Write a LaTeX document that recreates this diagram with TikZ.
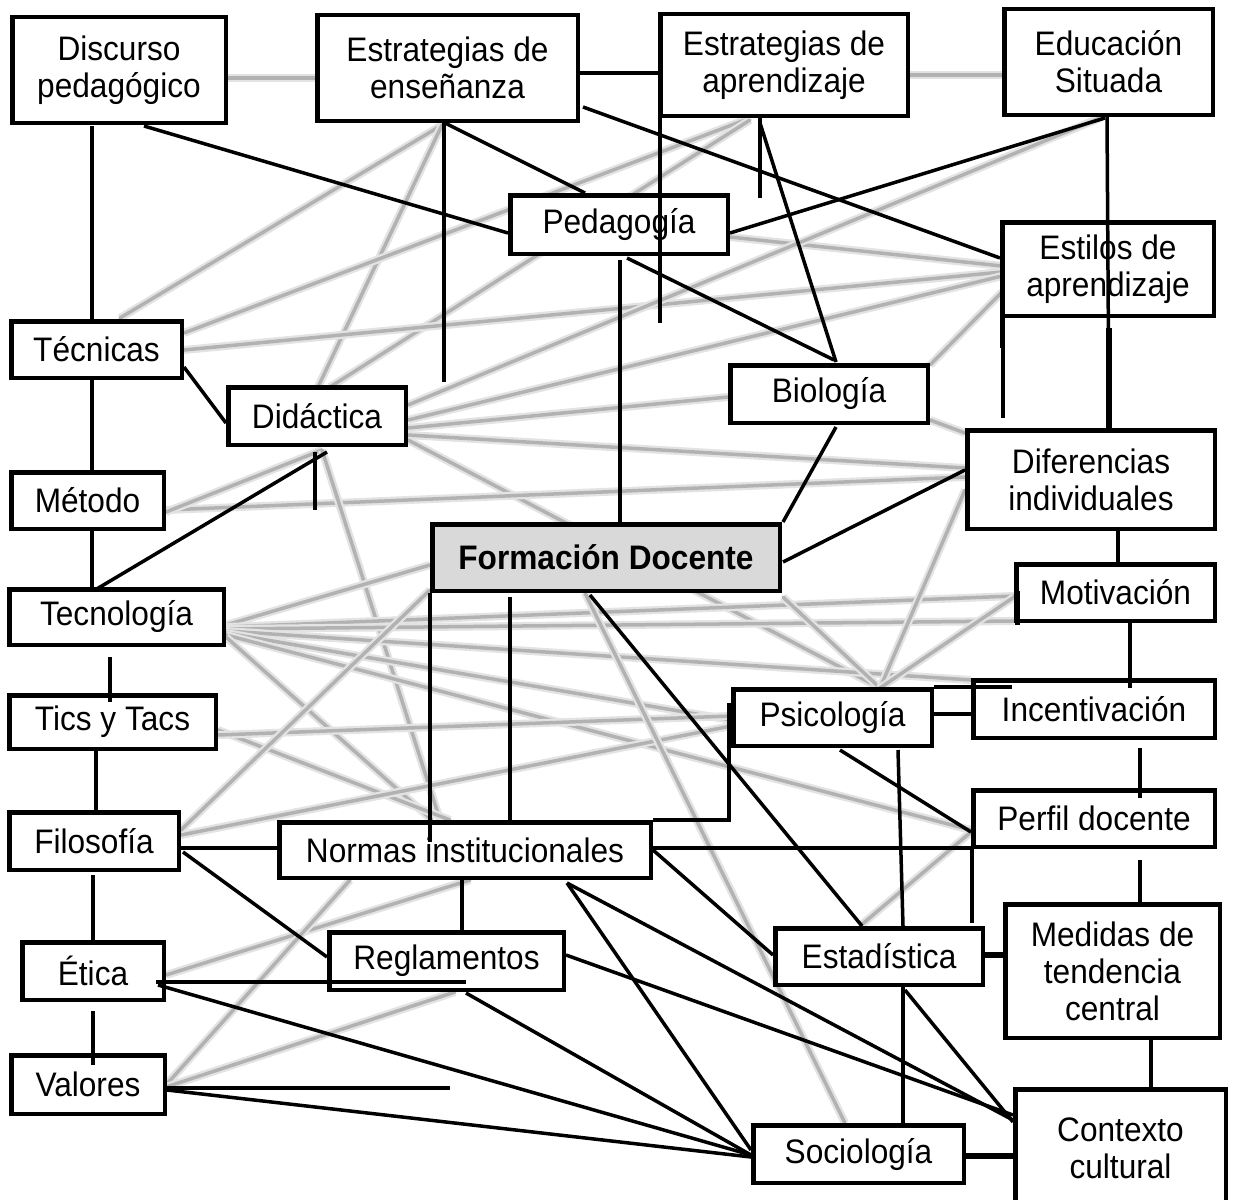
\documentclass[tikz,border=0pt]{standalone}
\usepackage{fontspec}
\setmainfont{Liberation Sans}[FakeStretch=0.93]
\usetikzlibrary{calc}
\begin{document}
\begin{tikzpicture}[x=1pt,y=-1pt,
  box/.style={draw, line width=4.5pt, fill=white, inner sep=0pt, align=center, font=\fontsize{34}{37}\selectfont},
  conn/.style={line width=3.5pt},
  thickconn/.style={line width=6pt},
  ghost/.style={draw=black!30, line width=3.5pt, line cap=round, preaction={draw=black!11, line width=8pt}},
]
\useasboundingbox (0,0) rectangle (1233,1199);
\fill[white] (0,0) rectangle (1233,1199);

% named coordinates (free ends of connectors)
\coordinate (ensEnd) at (444,382);
\coordinate (aprEndA) at (660,323);
\coordinate (aprEndB) at (760,198);
\coordinate (didEnd) at (315,510);
\coordinate (valEnd) at (450,1088);

% node centres
\coordinate (c-disc) at (119,70);
\coordinate (c-ens) at (447.5,68);
\coordinate (c-apr) at (784,65);
\coordinate (c-edu) at (1108.5,62);
\coordinate (c-ped) at (619,224.5);
\coordinate (c-est) at (1108,269);
\coordinate (c-tec) at (96.5,349.5);
\coordinate (c-did) at (317,416);
\coordinate (c-bio) at (829,394);
\coordinate (c-dif) at (1091,479.5);
\coordinate (c-met) at (87.5,500.5);
\coordinate (c-form) at (606,557.5);
\coordinate (c-tecn) at (116.5,617);
\coordinate (c-mot) at (1115.5,592.5);
\coordinate (c-tics) at (112.5,722);
\coordinate (c-psi) at (832.5,717.5);
\coordinate (c-inc) at (1094,709);
\coordinate (c-perf) at (1094,818.5);
\coordinate (c-fil) at (94,841);
\coordinate (c-norm) at (465,850);
\coordinate (c-regl) at (446.5,961);
\coordinate (c-etic) at (93,971);
\coordinate (c-val) at (88,1084.5);
\coordinate (c-estad) at (879,956.5);
\coordinate (c-med) at (1112.5,971);
\coordinate (c-soc) at (858.5,1154);
\coordinate (c-ctx) at (1120.5,1148.5);

% ---------- grey background links ----------
\draw[ghost] ($(c-disc)+(109,8)$) -- ($(c-ens)+(-131.5,10)$);
\draw[ghost] ($(c-apr)+(126,10)$) -- ($(c-edu)+(-106.5,13)$);
\draw[ghost] ($(c-ens)+(-5.5,57)$) -- ($(c-tec)+(23.5,-31.5)$);
\draw[ghost] ($(c-ens)+(-5.5,57)$) -- ($(c-did)+(1,-29)$);
\draw[ghost] ($(c-apr)+(-39,55)$) -- ($(c-tec)+(87.5,-16.5)$);
\draw[ghost] ($(c-apr)+(-34,55)$) -- ($(c-did)+(13,-29)$);
\draw[ghost] ($(c-tec)+(87.5,0.5)$) -- ($(c-est)+(-106,3)$);
\draw[ghost] ($(c-ped)+(111,12.5)$) -- ($(c-est)+(-106,-3)$);
\draw[ghost] ($(c-did)+(91,4)$) -- ($(c-est)+(-106,7)$);
\draw[ghost] ($(c-did)+(91,-11)$) -- ($(c-edu)+(-8.5,56)$);
\draw[ghost] ($(c-did)+(91,12)$) -- ($(c-bio)+(-101,3)$);
\draw[ghost] ($(c-did)+(91,19)$) -- ($(c-dif)+(-126,-11.5)$);
\draw[ghost] ($(c-did)+(91,24)$) -- ($(c-psi)+(47.5,-29.5)$);
\draw[ghost] ($(c-est)+(-106,23)$) -- ($(c-bio)+(101,-29)$);
\draw[ghost] ($(c-bio)+(101,26)$) -- ($(c-dif)+(-126,-46.5)$);
\draw[ghost] ($(c-met)+(78.5,9.5)$) -- ($(c-dif)+(-126,-2.5)$);
\draw[ghost] ($(c-met)+(78.5,11.5)$) -- ($(c-did)+(5,34)$);
\draw[ghost] ($(c-did)+(5,34)$) -- ($(c-norm)+(-25,-30)$);
\draw[ghost] ($(c-tecn)+(109.5,8)$) -- ($(c-form)+(-176,7.5)$);
\draw[ghost] ($(c-tecn)+(109.5,10)$) -- ($(c-mot)+(-101.5,3.5)$);
\draw[ghost] ($(c-tecn)+(109.5,12)$) -- ($(c-mot)+(-101.5,28.5)$);
\draw[ghost] ($(c-tecn)+(109.5,14)$) -- ($(c-inc)+(-123,-29)$);
\draw[ghost] ($(c-tecn)+(109.5,16)$) -- ($(c-psi)+(-101.5,2.5)$);
\draw[ghost] ($(c-tecn)+(109.5,18)$) -- ($(c-perf)+(-123,11.5)$);
\draw[ghost] ($(c-tecn)+(109.5,20)$) -- ($(c-norm)+(-33,-30)$);
\draw[ghost] ($(c-tics)+(105.5,8)$) -- ($(c-norm)+(-15,-30)$);
\draw[ghost] ($(c-tics)+(105.5,13)$) -- ($(c-psi)+(-101.5,-1.5)$);
\draw[ghost] ($(c-fil)+(87,-6)$) -- ($(c-psi)+(-101.5,8.5)$);
\draw[ghost] ($(c-fil)+(87,-11)$) -- ($(c-form)+(-176,32.5)$);
\draw[ghost] ($(c-form)+(177,39.5)$) -- ($(c-psi)+(47.5,-29.5)$);
\draw[ghost] ($(c-dif)+(-126,10.5)$) -- ($(c-psi)+(47.5,-29.5)$);
\draw[ghost] ($(c-mot)+(-101.5,4.5)$) -- ($(c-psi)+(47.5,-29.5)$);
\draw[ghost] ($(c-form)+(-21,35.5)$) -- ($(c-soc)+(-13.5,-31)$);
\draw[ghost] ($(c-perf)+(-123,13.5)$) -- ($(c-estad)+(-19,-30.5)$);
\draw[ghost] ($(c-etic)+(73,4)$) -- ($(c-norm)+(5,30)$);
\draw[ghost] ($(c-val)+(78,0.5)$) -- ($(c-norm)+(-115,30)$);
\draw[ghost] ($(c-val)+(78,2.5)$) -- ($(c-regl)+(8.5,31)$);

% ---------- boxes ----------
\node[box, minimum width=213.5pt, minimum height=105.5pt] (disc) at (c-disc) {Discurso\\pedagógico};
\node[box, minimum width=260.5pt, minimum height=105.5pt] (ens) at (c-ens) {Estrategias de\\enseñanza};
\node[box, minimum width=247.5pt, minimum height=101.5pt] (apr) at (c-apr) {Estrategias de\\aprendizaje};
\node[box, minimum width=208.5pt, minimum height=105.5pt] (edu) at (c-edu) {Educación\\Situada};
\node[box, minimum width=217.5pt, minimum height=58.5pt] (ped) at (c-ped) {Pedagogía};
\node[box, minimum width=211.5pt, minimum height=93.5pt] (est) at (c-est) {Estilos de\\aprendizaje};
\node[box, minimum width=170.5pt, minimum height=56.5pt] (tec) at (c-tec) {Técnicas};
\node[box, minimum width=177.5pt, minimum height=57.5pt] (did) at (c-did) {Didáctica};
\node[box, minimum width=197.5pt, minimum height=57.5pt] (bio) at (c-bio) {Biología};
\node[box, minimum width=247.5pt, minimum height=98.5pt] (dif) at (c-dif) {Diferencias\\individuales};
\node[box, minimum width=152.5pt, minimum height=56.5pt] (met) at (c-met) {Método};
\node[box, minimum width=347.5pt, minimum height=66.5pt, fill=black!15, font=\fontsize{34}{37}\selectfont\bfseries] (form) at (c-form) {Formación Docente};
\node[box, minimum width=214.5pt, minimum height=55.5pt] (tecn) at (c-tecn) {Tecnología};
\node[box, minimum width=198.5pt, minimum height=56.5pt] (mot) at (c-mot) {Motivación};
\node[box, minimum width=206.5pt, minimum height=53.5pt] (tics) at (c-tics) {Tics y Tacs};
\node[box, minimum width=198.5pt, minimum height=56.5pt] (psi) at (c-psi) {Psicología};
\node[box, minimum width=241.5pt, minimum height=57.5pt] (inc) at (c-inc) {Incentivación};
\node[box, minimum width=241.5pt, minimum height=56.5pt] (perf) at (c-perf) {Perfil docente};
\node[box, minimum width=169.5pt, minimum height=57.5pt] (fil) at (c-fil) {Filosofía};
\node[box, minimum width=371.5pt, minimum height=55.5pt] (norm) at (c-norm) {Normas institucionales};
\node[box, minimum width=234.5pt, minimum height=57.5pt] (regl) at (c-regl) {Reglamentos};
\node[box, minimum width=141.5pt, minimum height=57.5pt] (etic) at (c-etic) {Ética};
\node[box, minimum width=153.5pt, minimum height=58.5pt] (val) at (c-val) {Valores};
\node[box, minimum width=207.5pt, minimum height=56.5pt] (estad) at (c-estad) {Estadística};
\node[box, minimum width=214.5pt, minimum height=133.5pt] (med) at (c-med) {Medidas de\\tendencia\\central};
\node[box, minimum width=210.5pt, minimum height=118.5pt] (ctx) at (c-ctx) {Contexto\\cultural};
\node[box, minimum width=210.5pt, minimum height=57.5pt] (soc) at (c-soc) {Sociología};

% ---------- black connectors ----------
\draw[conn] ($(disc)+(-27,56)$) -- ($(tec)+(-4.5,-30.5)$);
\draw[conn] ($(disc)+(25,56)$) -- ($(ped)+(-111,8.5)$);
\draw[conn] ($(ens)+(132.5,5)$) -- ($(apr)+(-126,8)$);
\draw[conn] ($(ens)+(-2.5,55)$) -- ($(ped)+(-34,-31.5)$);
\draw[conn] ($(ens)+(-3.5,55)$) -- (ensEnd);
\draw[conn] ($(ens)+(135.5,39)$) -- ($(est)+(-108,-11)$);
\draw[conn] ($(apr)+(-124,53)$) -- (aprEndA);
\draw[conn] ($(apr)+(-24,53)$) -- (aprEndB);
\draw[conn] ($(apr)+(-24,58)$) -- ($(bio)+(7,-32)$);
\draw[conn] ($(edu)+(-3.5,56)$) -- ($(ped)+(111,8.5)$);
\draw[conn] ($(edu)+(-1.5,55)$) -- ($(dif)+(18,-51.5)$);
\draw[line width=5.5pt] ($(est)+(1,59)$) -- ($(dif)+(18,-52)$);
\draw[line width=5pt] ($(est)+(-106,8)$) -- ($(est)+(-106,79)$);
\draw[conn] ($(est)+(-105,8)$) -- ($(dif)+(-88,-62)$);
\draw[conn] ($(ped)+(1,35.5)$) -- ($(form)+(14,-35.5)$);
\draw[conn] ($(ped)+(8,33.5)$) -- ($(bio)+(5,-34)$);
\draw[conn] ($(bio)+(7,33)$) -- ($(form)+(177,-35.5)$);
\draw[conn] ($(form)+(177,4.5)$) -- ($(dif)+(-126,-9.5)$);
\draw[conn] ($(tec)+(87.5,17.5)$) -- ($(did)+(-91,7)$);
\draw[conn] ($(tec)+(-4.5,30.5)$) -- ($(met)+(4.5,-30.5)$);
\draw[conn] ($(did)+(10,36)$) -- ($(tecn)+(-21.5,-27)$);
\draw[conn] ($(did)+(-2,36)$) -- (didEnd);
\draw[conn] ($(met)+(4.5,30.5)$) -- ($(tecn)+(-24.5,-30)$);
\draw[conn] ($(tecn)+(-6.5,40)$) -- ($(tics)+(-2.5,-20)$);
\draw[conn] ($(tics)+(-16.5,29)$) -- ($(fil)+(2,-26)$);
\draw[conn] ($(form)+(-176,35.5)$) -- ($(norm)+(-35,-8)$);
\draw[conn] ($(form)+(-96,39.5)$) -- ($(norm)+(45,-30)$);
\draw[conn] ($(form)+(-16,37.5)$) -- ($(estad)+(-17,-30.5)$);
\draw[conn] ($(fil)+(87,7)$) -- ($(norm)+(-188,-2)$);
\draw[conn] ($(fil)+(89,11)$) -- ($(regl)+(-119.5,-4)$);
\draw[conn] ($(fil)+(-1,34)$) -- ($(etic)+(0,-31)$);
\draw[conn] ($(etic)+(0,40)$) -- ($(val)+(5,-19.5)$);
\draw[conn] ($(norm)+(-3,30)$) -- ($(regl)+(15.5,-31)$);
\draw[conn] ($(etic)+(63,11)$) -- ($(regl)+(19.5,21)$);
\draw[conn] ($(etic)+(65,14)$) -- ($(soc)+(-107.5,1)$);
\draw[conn] ($(val)+(79,3.5)$) -- (valEnd);
\draw[conn] ($(val)+(79,5.5)$) -- ($(soc)+(-107.5,3)$);
\draw[conn] ($(norm)+(188,-2)$) -- ($(perf)+(-123,29.5)$);
\draw[conn] ($(norm)+(188,0)$) -- ($(estad)+(-106,-1.5)$);
\draw[conn] ($(norm)+(102,33)$) -- ($(soc)+(-107.5,-4)$);
\draw[conn] ($(norm)+(102,33)$) -- ($(ctx)+(-107.5,-28.5)$);
\draw[conn] ($(regl)+(119.5,-6)$) -- ($(ctx)+(-107.5,-33.5)$);
\draw[conn] ($(regl)+(19.5,32)$) -- ($(soc)+(-107.5,1)$);
\draw[conn] ($(norm)+(188,-30)$) -| ($(psi)+(-103.5,-14.5)$);
\draw[conn] ($(psi)+(101.5,-3.5)$) -- ($(inc)+(-123,5)$);
\draw[conn] ($(psi)+(101.5,-30.5)$) -- ($(inc)+(-82,-22)$);
\draw[conn] ($(dif)+(27,51.5)$) -- ($(mot)+(2.5,-30.5)$);
\draw[conn] ($(mot)+(14.5,30.5)$) -- ($(inc)+(36,-21)$);
\draw[conn] ($(inc)+(46,39)$) -- ($(perf)+(46,-20.5)$);
\draw[conn] ($(perf)+(46,41.5)$) -- ($(med)+(27.5,-69)$);
\draw[conn] ($(med)+(38.5,69)$) -- ($(ctx)+(30.5,-61.5)$);
\draw[thickconn] ($(estad)+(106,-1.5)$) -- ($(med)+(-109.5,-16)$);
\draw[thickconn] ($(soc)+(107.5,2)$) -- ($(ctx)+(-107.5,7.5)$);
\draw[conn] ($(psi)+(7.5,32.5)$) -- ($(perf)+(-123,13.5)$);
\draw[conn] ($(psi)+(65.5,32.5)$) -- ($(estad)+(24,-30.5)$);
\draw[conn] ($(perf)+(-122,30.5)$) -- ($(estad)+(93,-33.5)$);
\draw[conn] ($(estad)+(24,30.5)$) -- ($(soc)+(44.5,-31)$);
\draw[conn] ($(estad)+(26,33.5)$) -- ($(ctx)+(-107.5,-26.5)$);
\draw[line width=5pt] ($(mot)+(-98.5,-1.5)$) -- ($(mot)+(-98.5,32.5)$);
\end{tikzpicture}
\end{document}
